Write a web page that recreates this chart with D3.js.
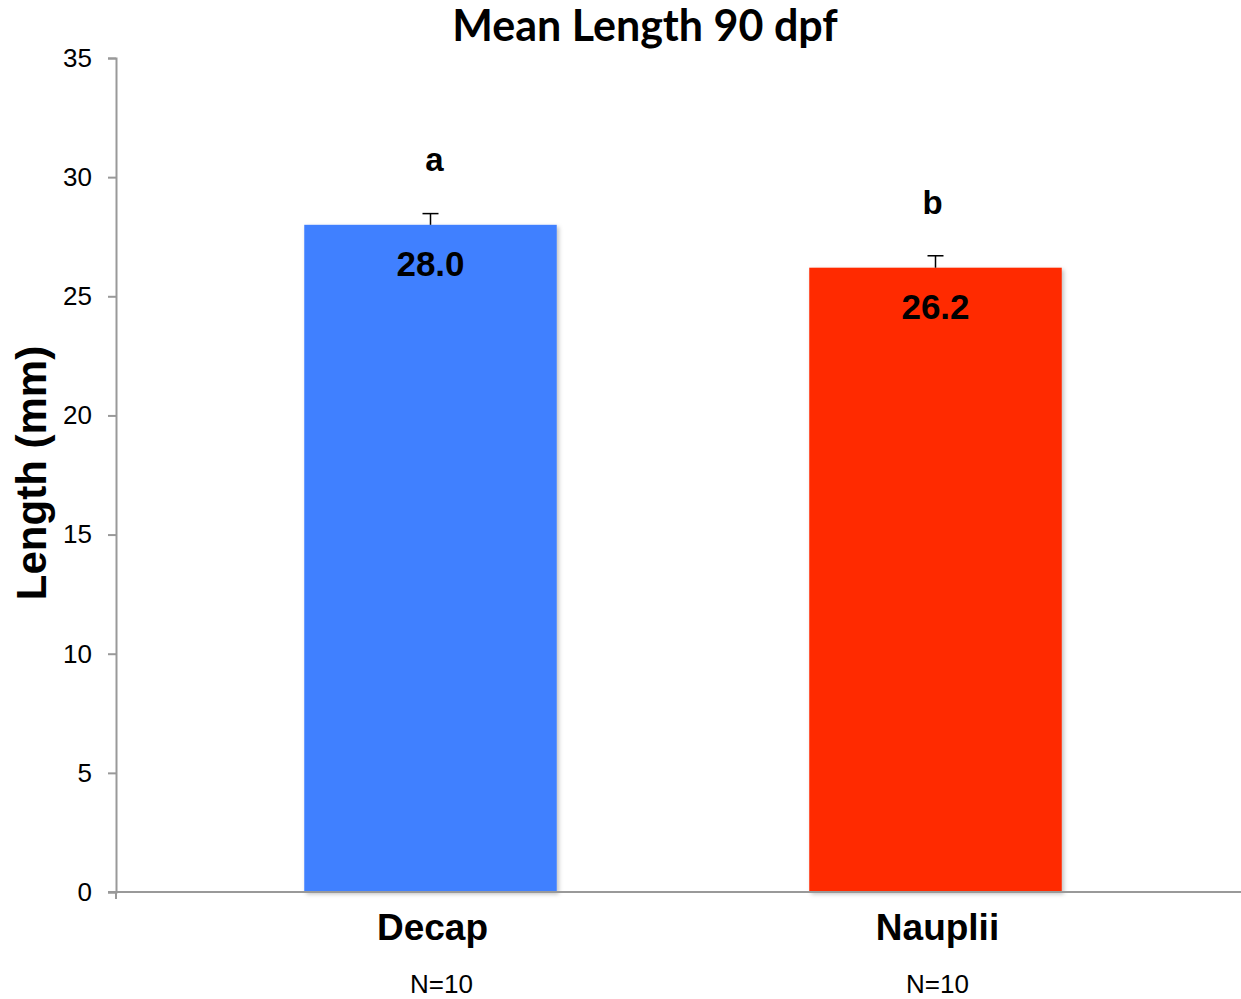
<!DOCTYPE html>
<html>
<head>
<meta charset="utf-8">
<script src="https://cdn.jsdelivr.net/npm/d3@7"></script>
<style>
  body { margin: 0; background: #fff; }
  svg { display: block; }
</style>
</head>
<body>
<div id="chart"></div>
<script>
// data
var groups = ['Decap', 'Nauplii'];
var means = [28.0, 26.2];
var errors = [0.47, 0.5];
var letters = ['a', 'b'];
var sampleSizes = ['N=10', 'N=10'];
var colors = ['#4180ff', '#ff2a00'];
var yTicks = [0, 5, 10, 15, 20, 25, 30, 35];

var width = 1241, height = 999;
var svg = d3.select('#chart').append('svg')
    .attr('width', width)
    .attr('height', height);

var defs = svg.append('defs');
var f = defs.append('filter').attr('id', 'shadow')
    .attr('x', '-5%').attr('y', '-5%').attr('width', '115%').attr('height', '115%');
f.append('feDropShadow').attr('dx', 2).attr('dy', 2).attr('stdDeviation', 2)
    .attr('flood-color', '#000').attr('flood-opacity', 0.25);

var y = d3.scaleLinear().domain([0, 35]).range([892, 58]);
var x = d3.scaleBand().domain(groups).range([178, 1188]).paddingInner(0.5).paddingOuter(0.25);
var cx = function(d) { return x(d) + x.bandwidth() / 2; };

// title
svg.append('text')
    .attr('x', 645).attr('y', 41)
    .attr('text-anchor', 'middle')
    .style('font-family', 'Lato, "Open Sans", sans-serif')
    .style('font-weight', 'bold')
    .style('font-size', '43px')
    .text('Mean Length 90 dpf');

// y axis
var yAxis = svg.append('g')
    .attr('transform', 'translate(116,0)')
    .call(d3.axisLeft(y).tickValues(yTicks).tickSize(8).tickPadding(16));
yAxis.select('.domain').attr('stroke', '#999').attr('stroke-width', 2);
yAxis.selectAll('.tick line').attr('stroke', '#999').attr('stroke-width', 2);
yAxis.selectAll('.tick text')
    .style('font-family', '"Liberation Sans", Arial, sans-serif')
    .style('font-size', '26px')
    .attr('fill', '#000');

svg.append('text')
    .attr('transform', 'translate(46,473) rotate(-90)')
    .attr('text-anchor', 'middle')
    .style('font-family', '"Liberation Sans", Arial, sans-serif')
    .style('font-weight', 'bold')
    .style('font-size', '42px')
    .text('Length (mm)');

// bars
svg.selectAll('rect.bar')
    .data(groups)
    .enter().append('rect')
    .attr('class', 'bar')
    .attr('x', function(d) { return x(d); })
    .attr('width', x.bandwidth())
    .attr('y', function(d, i) { return y(means[i]); })
    .attr('height', function(d, i) { return y(0) - y(means[i]); })
    .attr('fill', function(d, i) { return colors[i]; })
    .attr('filter', 'url(#shadow)');

// x baseline
svg.append('line')
    .attr('x1', 108).attr('x2', 1241)
    .attr('y1', y(0)).attr('y2', y(0))
    .attr('stroke', '#999').attr('stroke-width', 2);
svg.append('line')
    .attr('x1', 116).attr('x2', 116)
    .attr('y1', y(0)).attr('y2', y(0) + 7)
    .attr('stroke', '#999').attr('stroke-width', 2);

// error bars (upper only)
var eb = svg.selectAll('g.err')
    .data(groups)
    .enter().append('g')
    .attr('class', 'err');
eb.append('line')
    .attr('x1', cx).attr('x2', cx)
    .attr('y1', function(d, i) { return y(means[i]); })
    .attr('y2', function(d, i) { return y(means[i] + errors[i]); })
    .attr('stroke', '#000').attr('stroke-width', 1.5);
eb.append('line')
    .attr('x1', function(d) { return cx(d) - 8; })
    .attr('x2', function(d) { return cx(d) + 8; })
    .attr('y1', function(d, i) { return y(means[i] + errors[i]); })
    .attr('y2', function(d, i) { return y(means[i] + errors[i]); })
    .attr('stroke', '#000').attr('stroke-width', 1.5);

// value labels inside bars
svg.selectAll('text.val')
    .data(groups)
    .enter().append('text')
    .attr('class', 'val')
    .attr('x', cx)
    .attr('y', function(d, i) { return y(means[i]) + 51; })
    .attr('text-anchor', 'middle')
    .style('font-family', '"Liberation Sans", Arial, sans-serif')
    .style('font-weight', 'bold')
    .style('font-size', '35px')
    .text(function(d, i) { return means[i].toFixed(1); });

// significance letters
svg.selectAll('text.sig')
    .data(groups)
    .enter().append('text')
    .attr('class', 'sig')
    .attr('x', function(d, i) { return cx(d) + (i === 0 ? 4 : -3); })
    .attr('y', function(d, i) { return y(means[i]) - 54; })
    .attr('text-anchor', 'middle')
    .style('font-family', '"Liberation Sans", Arial, sans-serif')
    .style('font-weight', 'bold')
    .style('font-size', '33px')
    .text(function(d, i) { return letters[i]; });

// category labels
svg.selectAll('text.cat')
    .data(groups)
    .enter().append('text')
    .attr('class', 'cat')
    .attr('x', function(d) { return cx(d) + 2; })
    .attr('y', 940)
    .attr('text-anchor', 'middle')
    .style('font-family', '"Liberation Sans", Arial, sans-serif')
    .style('font-weight', 'bold')
    .style('font-size', '37px')
    .text(function(d) { return d; });

svg.selectAll('text.n')
    .data(groups)
    .enter().append('text')
    .attr('class', 'n')
    .attr('x', function(d, i) { return cx(d) + (i === 0 ? 11 : 2); })
    .attr('y', 993)
    .attr('text-anchor', 'middle')
    .style('font-family', '"Liberation Sans", Arial, sans-serif')
    .style('font-size', '26px')
    .text(function(d, i) { return sampleSizes[i]; });
</script>
</body>
</html>
